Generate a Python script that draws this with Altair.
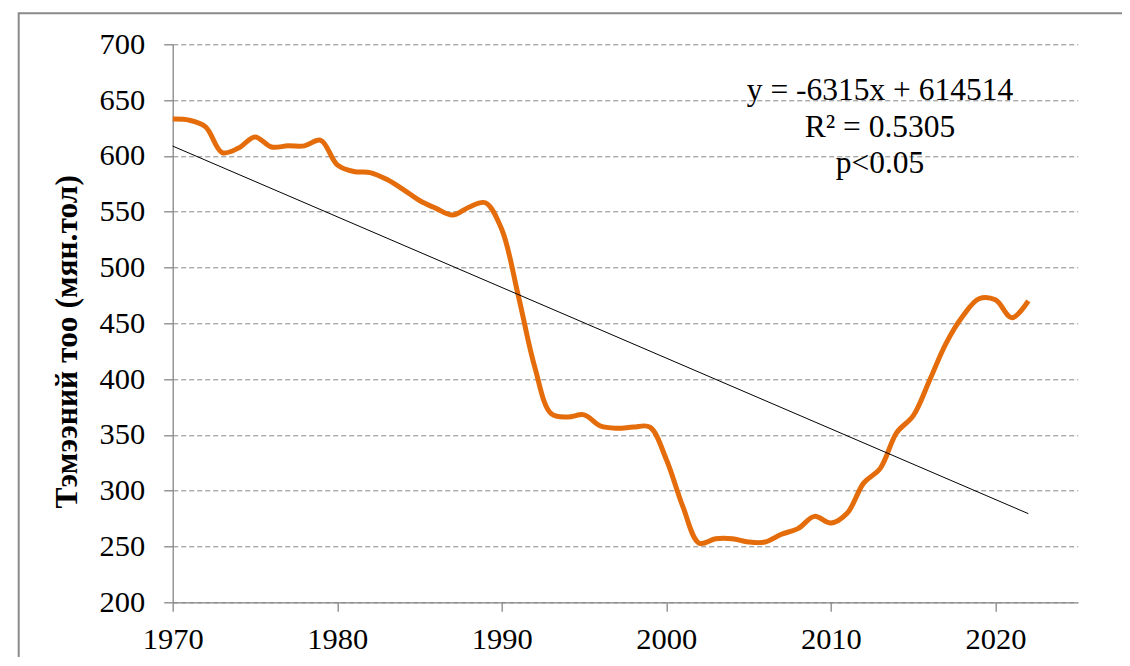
import altair as alt
import pandas as pd

years = list(range(1970, 2023))
camels = [
    633, 632, 626, 603, 607, 617, 608, 609, 609, 614,
    592, 586, 585, 579, 570, 560, 553, 547, 554, 558,
    534, 475, 411, 369, 366, 368, 358, 356, 357, 357,
    328, 286, 253, 257, 257, 254, 254, 261, 266, 277,
    271, 280, 307, 320, 352, 367, 399, 432, 456, 472,
    471, 455, 470,
]
x_ticks = [1970, 1980, 1990, 2000, 2010, 2020]
y_ticks = [200, 250, 300, 350, 400, 450, 500, 550, 600, 650, 700]
annotation = ["y = -6315x + 614514", "R² = 0.5305", "p<0.05"]
y_title = "Тэмээний тоо (мян.тол)"

df = pd.DataFrame({"year": years, "value": camels})

FONT = "Liberation Serif"
GRAY = "#868686"

x_enc = alt.X("year:Q", scale=alt.Scale(domain=[1970, 2025], nice=False, zero=False),
              axis=alt.Axis(values=x_ticks, format="d", title=None, grid=False,
                            domainColor=GRAY, domainWidth=1.3, tickColor=GRAY, tickSize=9,
                            tickWidth=1.3, labelFont=FONT, labelFontSize=30.5, labelColor="black",
                            labelPadding=13, labelFlush=False))
y_enc = alt.Y("value:Q", scale=alt.Scale(domain=[200, 700], nice=False, zero=False),
              axis=alt.Axis(values=y_ticks, title=y_title, grid=True, gridColor=GRAY,
                            gridDash=[5, 3], gridWidth=1, domainColor=GRAY, domainWidth=1.3,
                            tickColor=GRAY, tickSize=9, tickWidth=1.3, labelFont=FONT,
                            labelFontSize=30.5, labelColor="black", labelPadding=19,
                            titleFont=FONT, titleFontSize=31.5, titleFontWeight="bold",
                            titleColor="black", titleAngle=270, titleX=-105, titleY=297,
                            titleAlign="center", titleBaseline="middle"))

line = alt.Chart(df).mark_line(color="#E46C0A", strokeWidth=5, interpolate="catmull-rom").encode(
    x=x_enc, y=y_enc)

trend = alt.Chart(df).transform_regression("year", "value").mark_line(
    color="black", strokeWidth=1).encode(x="year:Q", y="value:Q")

text = alt.Chart(pd.DataFrame({"a": [0]})).mark_text(
    text=annotation, font=FONT, fontSize=31.5, color="black", align="center",
    baseline="alphabetic", lineHeight=36.7).encode(x=alt.value(707.3), y=alt.value(55.7))

frame = alt.Chart(pd.DataFrame({"a": [0]})).mark_rect(
    fillOpacity=0, stroke="#8a8a8a", strokeWidth=2).encode(
    x=alt.value(-154), x2=alt.value(1000), y=alt.value(-31), y2=alt.value(700))

chart = alt.layer(frame, line, trend, text).properties(
    width=905, height=558,
    autosize=alt.AutoSizeParams(type="none"),
    padding={"left": 164.7, "top": 36.3, "right": 44.2, "bottom": 55},
).configure_view(stroke=None)

chart.save("out.html", embed_options={"renderer": "svg", "actions": False})
